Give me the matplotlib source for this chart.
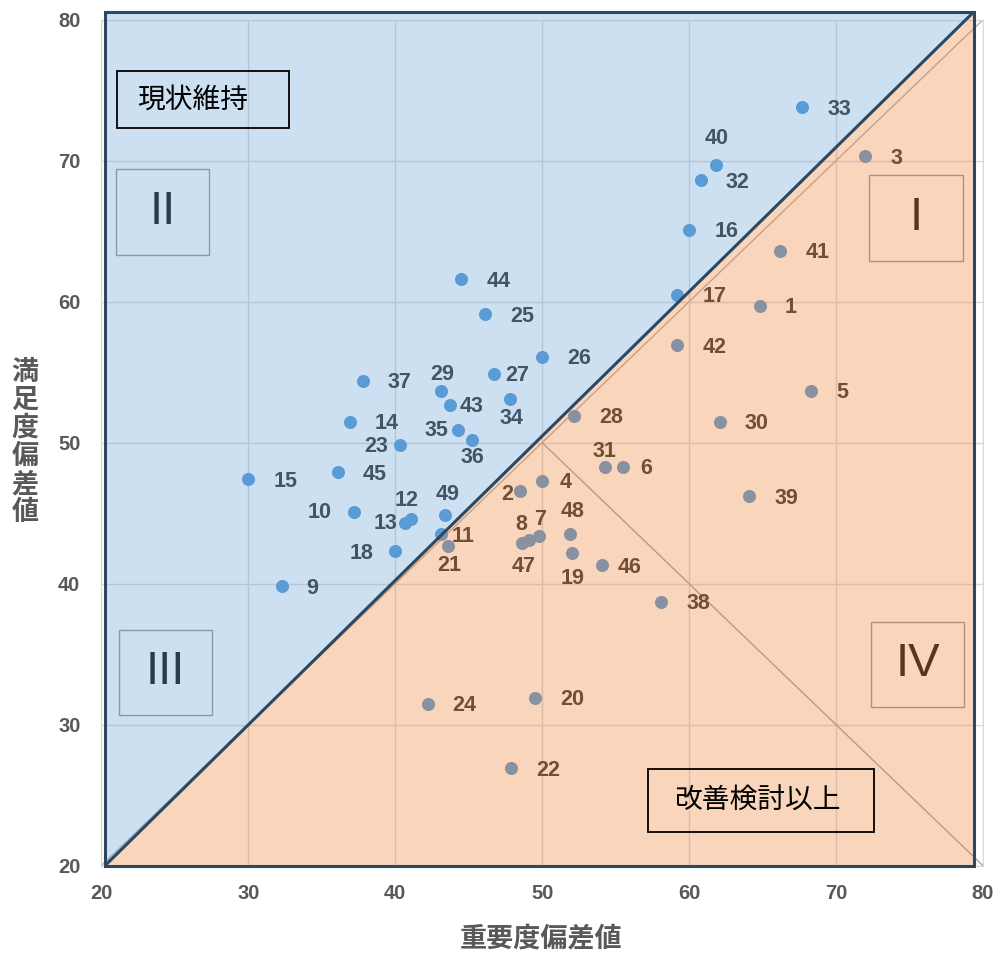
import numpy as np
import matplotlib
matplotlib.use('Agg')
import matplotlib.pyplot as plt
from matplotlib.patches import Polygon, Rectangle

# データ (重要度偏差値, 満足度偏差値)
ids = list(range(1, 50))
juyodo = [64.8, 48.5, 72.0, 50.0, 68.3, 55.5, 49.8, 48.6, 32.3, 37.2,
          43.1, 41.1, 40.7, 36.9, 30.0, 60.0, 59.2, 40.0, 52.0, 49.5,
          43.6, 47.9, 40.3, 42.2, 46.1, 50.0, 46.7, 52.2, 43.1, 62.1,
          54.3, 60.8, 67.7, 47.8, 44.3, 45.2, 37.8, 58.1, 64.1, 61.8,
          66.2, 59.2, 43.7, 44.5, 36.1, 54.1, 49.1, 51.9, 43.4]
manzoku = [59.7, 46.6, 70.3, 47.3, 53.7, 48.3, 43.4, 42.9, 39.8, 45.1,
           43.5, 44.6, 44.3, 51.5, 47.4, 65.1, 60.5, 42.3, 42.2, 31.9,
           42.7, 26.9, 49.8, 31.5, 59.1, 56.1, 54.9, 51.9, 53.7, 51.5,
           48.3, 68.6, 73.8, 53.1, 50.9, 50.2, 54.4, 38.7, 46.2, 69.7,
           63.6, 56.9, 52.7, 61.6, 47.9, 41.3, 43.1, 43.5, 44.9]

ticks = [20, 30, 40, 50, 60, 70, 80]
quad_names = ['II', 'I', 'III', 'IV']

# ラベル位置 (pixel, 右が既定)
right = (37, 2)
label_off = {
    3: (31, 2), 1: (31, 2), 5: (31, 2), 9: (30, 2), 6: (23, 2), 4: (23, 2),
    43: (22, 2), 11: (22, 2), 27: (24, 2), 46: (27, 2),
    40: (1, -26), 29: (1, -16), 12: (-5, -18), 49: (2, -20), 8: (0, -18),
    7: (1, -16), 48: (2, -23), 31: (-1, -15),
    36: (1, 18), 34: (2, 20), 21: (1, 20), 47: (-5, 27), 19: (1, 26),
    35: (-22, 1), 23: (-23, 1), 13: (-20, 0), 10: (-34, 1), 18: (-34, 2),
    2: (-13, 4),
}

plt.rcParams['font.family'] = ['Liberation Sans', 'Noto Sans CJK JP', 'DejaVu Sans']

fig = plt.figure(figsize=(10, 9.56), dpi=100)
ax = fig.add_axes([0.1013, 0.0945, 0.8817, 0.8849])
ax.set_xlim(20, 80)
ax.set_ylim(20, 80)
ax.set_xticks(ticks)
ax.set_yticks(ticks)
ax.tick_params(length=0, labelsize=14.5, labelcolor='#595959')
ax.tick_params(axis='x', pad=13)
ax.tick_params(axis='y', pad=15)
for lab in ax.get_xticklabels() + ax.get_yticklabels():
    lab.set_fontweight('bold')
ax.grid(True, color='#d9d9d9', lw=1)
ax.set_axisbelow(True)
for s in ax.spines.values():
    s.set_color('#d9d9d9')

# 補助線
ax.plot([20, 80], [20, 80], color='#b3b3b3', lw=1, zorder=1)
ax.plot([50, 80], [50, 20], color='#a6a6a6', lw=1, zorder=1)

# 散布図
ax.plot(juyodo, manzoku, 'o', color='#5b9bd5', ms=9.4, mec='none', zorder=2)
for i, x, y in zip(ids, juyodo, manzoku):
    dx, dy = label_off.get(i, right)
    ax.annotate(str(i), (x, y), xytext=(dx, -dy), textcoords='offset pixels',
                ha='center', va='center', fontsize=15.5, fontweight='bold',
                color='#383838', zorder=3)

# 象限ボックス
qboxes = [(21.0, 63.31, 6.33, 6.1), (72.27, 62.89, 6.4, 6.1),
          (21.2, 30.69, 6.33, 6.03), (72.41, 31.26, 6.33, 6.03)]
for name, (bx, by, bw, bh) in zip(quad_names, qboxes):
    ax.add_patch(Rectangle((bx, by), bw, bh, fill=False, ec='#9a9a9a', lw=1, zorder=3))
    ax.text(bx + bw / 2, by + bh / 2, name, ha='center', va='center',
            fontsize=34, color='#141414', zorder=3)

# 領域の塗り
x0, y0, x1, y1 = 20.25, 20.0, 79.37, 80.55
ax.add_patch(Polygon([(x0, y0), (x0, y1), (x1, y1)], closed=True, fc='#5b9bd5',
                     alpha=0.3, ec='none', zorder=5, clip_on=False))
ax.add_patch(Polygon([(x0, y0), (x1, y0), (x1, y1)], closed=True, fc='#ed7d31',
                     alpha=0.32, ec='none', zorder=5, clip_on=False))
ax.add_patch(Rectangle((x0, y0), x1 - x0, y1 - y0, fill=False, ec='#2c4760', lw=2.2,
                       zorder=6, clip_on=False))
ax.plot([x0, x1], [y0, y1], color='#2c4760', lw=2.2, zorder=6, clip_on=False,
        solid_capstyle='butt')

# テキストボックス
ax.add_patch(Rectangle((21.07, 72.32), 11.7, 4.05, fill=False, ec='black', lw=1.3, zorder=7))
ax.text(22.45, 74.3, '現状維持', ha='left', va='center', fontsize=20,
        family='Noto Sans CJK JP', color='black', zorder=7)
ax.add_patch(Rectangle((57.19, 22.4), 15.37, 4.47, fill=False, ec='black', lw=1.3, zorder=7))
ax.text(64.64, 24.6, '改善検討以上', ha='center', va='center', fontsize=20,
        family='Noto Sans CJK JP', color='black', zorder=7)

# 軸タイトル
fig.text(0.541, 1 - 938 / 956, '重要度偏差値', ha='center', va='center', fontsize=19.5,
         fontweight='bold', color='#595959', family='Noto Sans CJK JP')
fig.text(0.025, 1 - 442 / 956, '\n'.join('満足度偏差値'), ha='center', va='center',
         fontsize=19.5, fontweight='bold', color='#595959', family='Noto Sans CJK JP',
         linespacing=1.0)

fig.savefig('out.png', dpi=100)
